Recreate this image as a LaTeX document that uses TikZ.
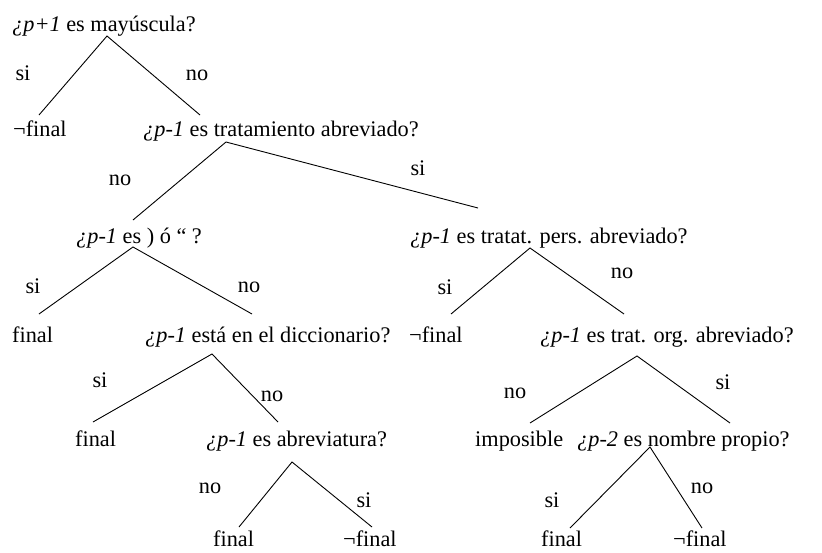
\documentclass[tikz,border=0pt]{standalone}
\usepackage{fontspec}
\setmainfont{Liberation Serif}
\begin{document}
\begin{tikzpicture}[x=1pt,y=-1pt,
  txt/.style={inner sep=0pt, anchor=base west, font=\fontsize{22.3}{25}\selectfont},
  lab/.style={inner sep=0pt, anchor=center, font=\fontsize{22.3}{25}\selectfont},
  edge/.style={line width=0.9pt, black}]
\useasboundingbox (0,0) rectangle (822,552);
% text nodes
\node[txt] (A) at (12,31) {\textit{¿p+1} es mayúscula?};
\node[txt] (B) at (13,136) {¬final};
\node[txt] (C) at (143,136) {\textit{¿p-1} es tratamiento abreviado?};
\node[txt] (D) at (76,243) {\textit{¿p-1} es ) ó “ ?};
\node[txt] (E) at (410,243) {\textit{¿p-1} es tratat. pers. abreviado?};
\node[txt] (F) at (12,342) {final};
\node[txt] (G) at (145,342) {\textit{¿p-1} está en el diccionario?};
\node[txt] (H) at (409,342) {¬final};
\node[txt] (I) at (540,342) {\textit{¿p-1} es trat. org. abreviado?};
\node[txt] (J) at (75,446) {final};
\node[txt] (K) at (206,446) {\textit{¿p-1} es abreviatura?};
\node[txt] (L) at (475,446) {imposible};
\node[txt] (M) at (577,446) {\textit{¿p-2} es nombre propio?};
\node[txt] (N) at (213,546) {final};
\node[txt] (O) at (343,546) {¬final};
\node[txt] (P) at (541,546) {final};
\node[txt] (Q) at (673,546) {¬final};
% connector points
\coordinate (a0) at (107,36);  \coordinate (a1) at (39,115);  \coordinate (a2) at (200,115);
\coordinate (c0) at (226,142); \coordinate (c1) at (133,220); \coordinate (c2) at (478,208);
\coordinate (d0) at (133,247); \coordinate (d1) at (39,314);  \coordinate (d2) at (252,314);
\coordinate (g0) at (212,354); \coordinate (g1) at (93,422);  \coordinate (g2) at (278,422);
\coordinate (k0) at (292,462); \coordinate (k1) at (239,527); \coordinate (k2) at (372,527);
\coordinate (e0) at (530,248); \coordinate (e1) at (451,314); \coordinate (e2) at (624,314);
\coordinate (i0) at (637,356); \coordinate (i1) at (530,423); \coordinate (i2) at (730,423);
\coordinate (m0) at (650,447); \coordinate (m1) at (570,528); \coordinate (m2) at (702,528);
\draw[edge] (a1) -- (a0) -- (a2);
\draw[edge] (c1) -- (c0) -- (c2);
\draw[edge] (d1) -- (d0) -- (d2);
\draw[edge] (g1) -- (g0) -- (g2);
\draw[edge] (k1) -- (k0) -- (k2);
\draw[edge] (e1) -- (e0) -- (e2);
\draw[edge] (i1) -- (i0) -- (i2);
\draw[edge] (m1) -- (m0) -- (m2);
% labels
\node[lab] (l1) at (23,73) {si};   \node[lab] (l2) at (197,75) {no};
\node[lab] (l3) at (120,180) {no}; \node[lab] (l4) at (418,168) {si};
\node[lab] (l5) at (33,286) {si};  \node[lab] (l6) at (249,287) {no};
\node[lab] (l7) at (100,380) {si}; \node[lab] (l8) at (272,396) {no};
\node[lab] (l9) at (210,488) {no}; \node[lab] (l10) at (364,500) {si};
\node[lab] (l11) at (445,287) {si}; \node[lab] (l12) at (622,273) {no};
\node[lab] (l13) at (515,393) {no}; \node[lab] (l14) at (723,382) {si};
\node[lab] (l15) at (552,500) {si}; \node[lab] (l16) at (702,488) {no};
\end{tikzpicture}
\end{document}
